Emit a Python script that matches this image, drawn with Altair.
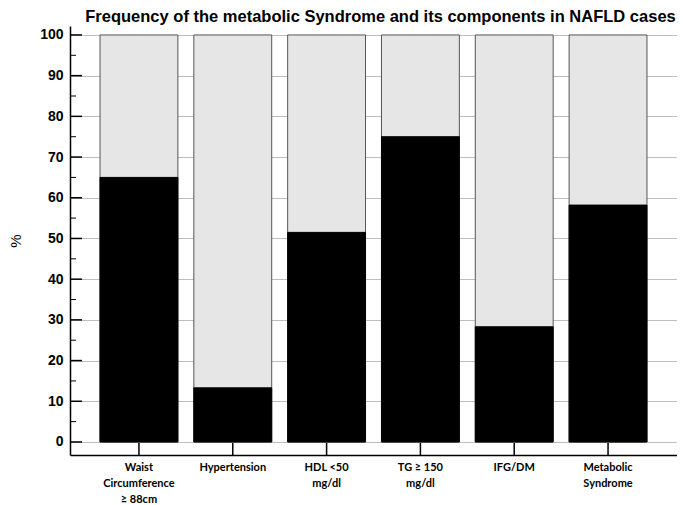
import altair as alt
import pandas as pd

categories = ["Waist|Circumference|≥ 88cm", "Hypertension", "HDL <50|mg/dl",
              "TG ≥ 150|mg/dl", "IFG/DM", "Metabolic|Syndrome"]
values = [65.0, 13.3, 51.5, 75.0, 28.3, 58.2]
totals = [100, 100, 100, 100, 100, 100]
major_ticks = list(range(0, 101, 10))
minor_ticks = list(range(5, 100, 10))

df = pd.DataFrame({"cat": categories, "value": values, "total": totals})
df_major = pd.DataFrame({"v": major_ticks})
df_minor = pd.DataFrame({"v": minor_ticks})

W, H = 607, 429
yscale = alt.Scale(domain=[-3.2, 102.2], nice=False, zero=False)
xscale = alt.Scale(paddingInner=0.17, paddingOuter=0.32)

xaxis = alt.Axis(title=None, labelExpr="split(datum.label, '|')", labelAngle=0,
                 tickSize=0, domainColor="black", domainWidth=1.5,
                 labelFont="Lato", labelFontWeight="bold", labelFontSize=11,
                 labelLineHeight=16, labelPadding=6, labelColor="black",
                 labelBaseline="top")
yaxis = alt.Axis(values=major_ticks, grid=True, gridColor="#bdbdbd", gridWidth=1,
                 tickSize=0, labelPadding=7, labelFont="Liberation Sans",
                 labelFontWeight="bold", labelFontSize=14, labelColor="black",
                 domainColor="black", domainWidth=1.5, title="%",
                 titleFont="Liberation Sans", titleFontWeight="normal",
                 titleFontSize=15, titleColor="black", titleX=-55, titleY=H / 2,
                 titleAngle=270, titleBaseline="middle")

base = alt.Chart(df)

light = base.mark_bar(fill="#e6e6e6", stroke="#555555", strokeWidth=1).encode(
    x=alt.X("cat:N", sort=categories, scale=xscale, axis=xaxis),
    y=alt.Y("total:Q", scale=yscale, axis=yaxis),
    y2=alt.datum(0),
)
dark = base.mark_bar(color="black", stroke="black", strokeWidth=1).encode(
    x=alt.X("cat:N", sort=categories),
    y=alt.Y("value:Q"),
    y2=alt.datum(0),
)
xticks = base.mark_rule(color="black", strokeWidth=1.5).encode(
    x=alt.X("cat:N", sort=categories),
    y=alt.value(H),
    y2=alt.value(H - 12),
)
ymajor = alt.Chart(df_major).mark_rule(color="black", strokeWidth=1.5).encode(
    y=alt.Y("v:Q"),
    x=alt.value(0),
    x2=alt.value(12),
)
yminor = alt.Chart(df_minor).mark_rule(color="black", strokeWidth=1).encode(
    y=alt.Y("v:Q"),
    x=alt.value(0),
    x2=alt.value(6),
)

chart = alt.layer(light, dark, xticks, ymajor, yminor).properties(
    width=W, height=H,
    autosize="none",
    padding={"left": 62, "top": 18, "right": 0, "bottom": 50},
    title=alt.Title("Frequency of the metabolic Syndrome and its components in NAFLD cases",
                    font="Liberation Sans", fontSize=16.5, fontWeight="bold",
                    color="black", offset=1, anchor="middle", dx=7),
).configure_view(stroke=None)

chart.save("out.html", embed_options={"renderer": "svg", "actions": False})
